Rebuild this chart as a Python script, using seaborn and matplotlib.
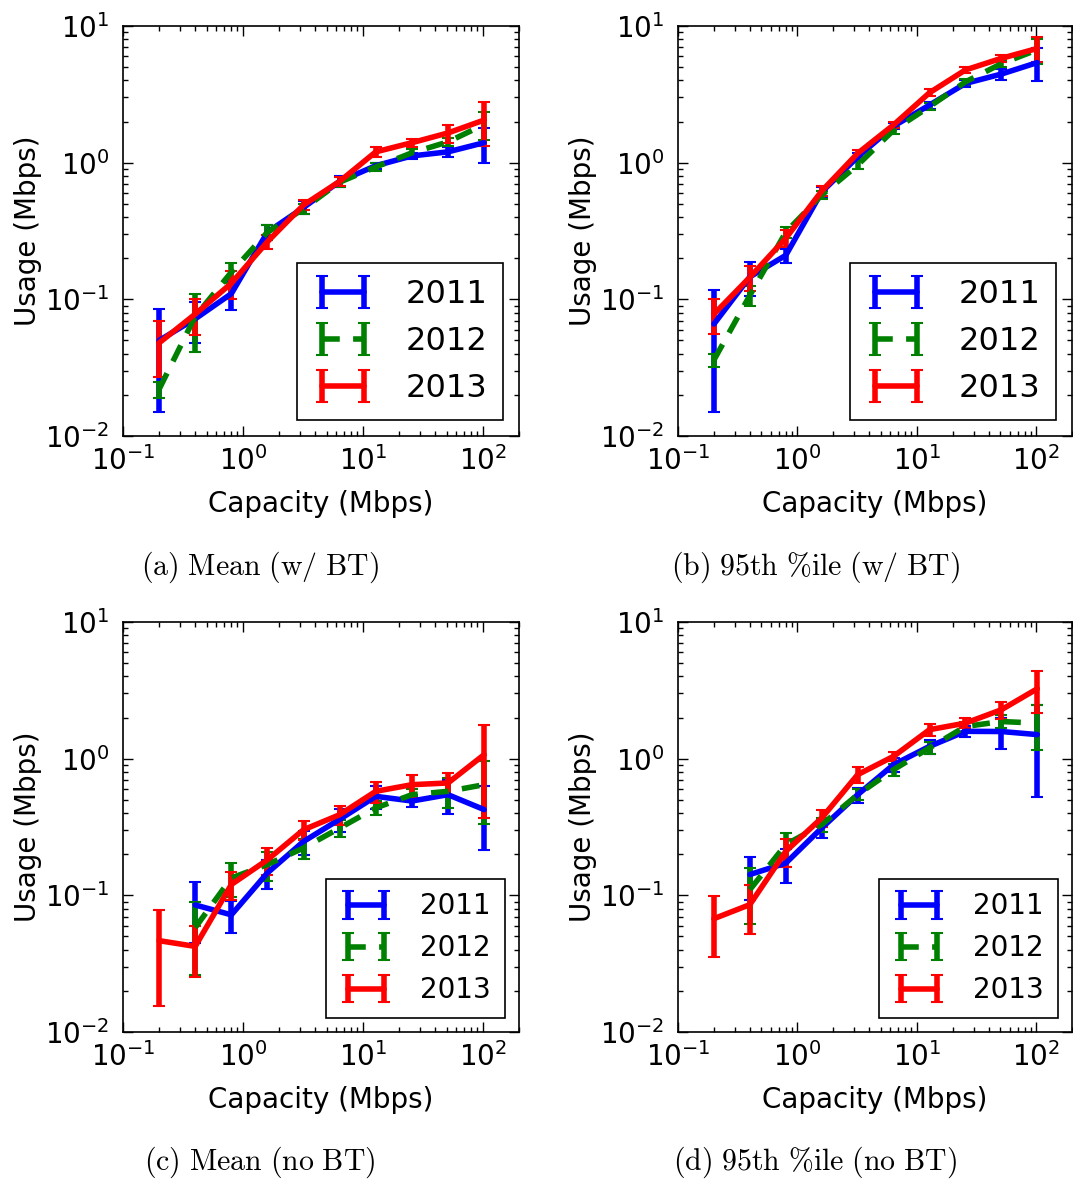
import numpy as np
import pandas as pd
import matplotlib
matplotlib.use("Agg")
import matplotlib.pyplot as plt
import seaborn as sns

# Link capacity bins (Mbps)
capacity = [0.2, 0.4, 0.8, 1.6, 3.2, 6.4, 12.8, 25.6, 51.2, 102.4]
years = ["2011", "2012", "2013"]
nan = np.nan

# (a) Mean usage, with BitTorrent
mean_bt_2011 = [0.050, 0.072, 0.110, 0.31, 0.47, 0.73, 0.95, 1.12, 1.20, 1.40]
mean_bt_2011_err = [0.035, 0.024, 0.026, 0.04, 0.05, 0.07, 0.05, 0.06, 0.10, 0.40]
mean_bt_2012 = [0.022, 0.075, 0.158, 0.31, 0.46, 0.72, 0.93, 1.18, 1.42, 1.90]
mean_bt_2012_err = [0.003, 0.034, 0.027, 0.04, 0.04, 0.06, 0.06, 0.07, 0.10, 0.43]
mean_bt_2013 = [0.048, 0.078, 0.131, 0.264, 0.49, 0.73, 1.20, 1.40, 1.65, 2.05]
mean_bt_2013_err = [0.021, 0.023, 0.030, 0.03, 0.04, 0.06, 0.10, 0.10, 0.25, 0.72]

# (b) 95th percentile usage, with BitTorrent
p95_bt_2011 = [0.066, 0.146, 0.21, 0.61, 1.10, 1.85, 2.64, 3.8, 4.45, 5.4]
p95_bt_2011_err = [0.051, 0.04, 0.025, 0.05, 0.08, 0.10, 0.15, 0.2, 0.4, 1.45]
p95_bt_2012 = [0.036, 0.107, 0.31, 0.58, 0.96, 1.73, 2.57, 3.9, 5.3, 6.7]
p95_bt_2012_err = [0.004, 0.018, 0.03, 0.04, 0.06, 0.10, 0.15, 0.2, 0.3, 1.4]
p95_bt_2013 = [0.078, 0.145, 0.28, 0.62, 1.17, 1.89, 3.25, 4.77, 5.8, 6.85]
p95_bt_2013_err = [0.022, 0.03, 0.04, 0.05, 0.07, 0.10, 0.2, 0.25, 0.35, 1.4]

# (c) Mean usage, without BitTorrent
mean_nobt_2011 = [nan, 0.085, 0.072, 0.146, 0.248, 0.36, 0.53, 0.49, 0.545, 0.424]
mean_nobt_2011_err = [nan, 0.04, 0.019, 0.035, 0.05, 0.07, 0.10, 0.05, 0.15, 0.21]
mean_nobt_2012 = [nan, 0.058, 0.134, 0.168, 0.222, 0.311, 0.436, 0.545, 0.577, 0.645]
mean_nobt_2012_err = [nan, 0.032, 0.037, 0.04, 0.038, 0.045, 0.05, 0.05, 0.14, 0.31]
mean_nobt_2013 = [0.0466, 0.0423, 0.12, 0.182, 0.302, 0.389, 0.577, 0.645, 0.664, 1.07]
mean_nobt_2013_err = [0.031, 0.017, 0.028, 0.04, 0.05, 0.06, 0.10, 0.12, 0.12, 0.70]

# (d) 95th percentile usage, without BitTorrent
p95_nobt_2011 = [nan, 0.142, 0.172, 0.311, 0.545, 0.904, 1.23, 1.585, 1.58, 1.5]
p95_nobt_2011_err = [nan, 0.05, 0.048, 0.05, 0.07, 0.10, 0.15, 0.15, 0.4, 0.98]
p95_nobt_2012 = [nan, 0.11, 0.235, 0.329, 0.545, 0.831, 1.2, 1.72, 1.87, 1.82]
p95_nobt_2012_err = [nan, 0.048, 0.049, 0.04, 0.05, 0.08, 0.12, 0.15, 0.2, 0.66]
p95_nobt_2013 = [0.0675, 0.0855, 0.21, 0.368, 0.764, 1.04, 1.63, 1.82, 2.28, 3.25]
p95_nobt_2013_err = [0.032, 0.033, 0.05, 0.05, 0.1, 0.08, 0.17, 0.15, 0.33, 1.1]

panels = ["mean_bt", "p95_bt", "mean_nobt", "p95_nobt"]
captions = [r"$\mathrm{(a)\ Mean\ (w/\ BT)}$",
            r"$\mathrm{(b)\ 95th\ \%ile\ (w/\ BT)}$",
            r"$\mathrm{(c)\ Mean\ (no\ BT)}$",
            r"$\mathrm{(d)\ 95th\ \%ile\ (no\ BT)}$"]

series = {
    ("mean_bt", "2011"): (mean_bt_2011, mean_bt_2011_err),
    ("mean_bt", "2012"): (mean_bt_2012, mean_bt_2012_err),
    ("mean_bt", "2013"): (mean_bt_2013, mean_bt_2013_err),
    ("p95_bt", "2011"): (p95_bt_2011, p95_bt_2011_err),
    ("p95_bt", "2012"): (p95_bt_2012, p95_bt_2012_err),
    ("p95_bt", "2013"): (p95_bt_2013, p95_bt_2013_err),
    ("mean_nobt", "2011"): (mean_nobt_2011, mean_nobt_2011_err),
    ("mean_nobt", "2012"): (mean_nobt_2012, mean_nobt_2012_err),
    ("mean_nobt", "2013"): (mean_nobt_2013, mean_nobt_2013_err),
    ("p95_nobt", "2011"): (p95_nobt_2011, p95_nobt_2011_err),
    ("p95_nobt", "2012"): (p95_nobt_2012, p95_nobt_2012_err),
    ("p95_nobt", "2013"): (p95_nobt_2013, p95_nobt_2013_err),
}

rows = []
for (panel, year), (vals, errs) in series.items():
    for c, v, e in zip(capacity, vals, errs):
        rows.append({"panel": panel, "year": year, "capacity": c,
                     "usage": v, "err": e})
df = pd.DataFrame(rows).dropna()

sns.set_style("ticks", {
    "xtick.direction": "in", "ytick.direction": "in",
    "xtick.top": True, "ytick.right": True,
    "axes.edgecolor": "black", "axes.linewidth": 1.2,
    "axes.labelcolor": "black", "text.color": "black",
    "xtick.color": "black", "ytick.color": "black",
})
plt.rcParams["font.family"] = ["DejaVu Sans"]
plt.rcParams["axes.unicode_minus"] = False
plt.rcParams["mathtext.fontset"] = "dejavusans"

palette = {"2011": "#0000ff", "2012": "#008000", "2013": "#ff0000"}


def draw_series(data, color, label, ls, **kws):
    ax = plt.gca()
    ax.errorbar(data["capacity"], data["usage"], yerr=data["err"],
                color=color, label=label, ls=ls, lw=4, elinewidth=4,
                capsize=4.5, capthick=1.5)


g = sns.FacetGrid(df, col="panel", col_wrap=2, col_order=panels,
                  hue="year", hue_order=years, palette=palette,
                  hue_kws={"ls": ["-", (0, (3.2, 2.4)), "-"]},
                  sharex=False, sharey=False, despine=False,
                  height=4, aspect=1)
g.map_dataframe(draw_series)

fig = g.figure
fig.set_size_inches(10.73, 11.82)
W, H = 1073.0, 1182.0
boxes = [(123, 26, 396, 410), (678, 26, 394, 410),
         (123, 622, 396, 410), (678, 622, 394, 410)]
cap_pos = [(260, 567), (815, 567), (260, 1162), (815, 1162)]
legend_sizes = [23, 23, 20, 20]

for ax, (l, t, w, h), cap, (cx, cy), lfs in zip(
        g.axes.flat, boxes, captions, cap_pos, legend_sizes):
    ax.set_title("")
    ax.set_xscale("log")
    ax.set_yscale("log")
    ax.set_xlim(0.1, 200)
    ax.set_ylim(0.01, 10)
    ax.set_position([l / W, 1 - (t + h) / H, w / W, h / H])
    ax.set_xlabel("Capacity (Mbps)", fontsize=20, labelpad=10, color="black")
    ax.set_ylabel("Usage (Mbps)", fontsize=20, labelpad=2, color="black")
    ax.tick_params(which="both", direction="in", top=True, right=True,
                   labelsize=20, width=1.0, color="black",
                   labelcolor="black")
    ax.tick_params(axis="x", which="major", length=7, pad=7)
    ax.tick_params(axis="y", which="major", length=7, pad=10)
    ax.tick_params(which="minor", length=3.5)
    for sp in ax.spines.values():
        sp.set_visible(True)
        sp.set_color("black")
        sp.set_linewidth(1.2)
    leg = ax.legend(loc="lower right", numpoints=2, fontsize=lfs,
                    frameon=True, fancybox=False, edgecolor="black",
                    framealpha=1, handlelength=1.9, handletextpad=1.0,
                    borderpad=0.5, labelspacing=0.5)
    leg.get_frame().set_linewidth(1.2)
    for txt in leg.get_texts():
        txt.set_color("black")
    fig.text(cx / W, 1 - cy / H, cap, ha="center", va="center",
             fontsize=21.5, color="black", math_fontfamily="cm")

fig.savefig("out.png", dpi=100)
